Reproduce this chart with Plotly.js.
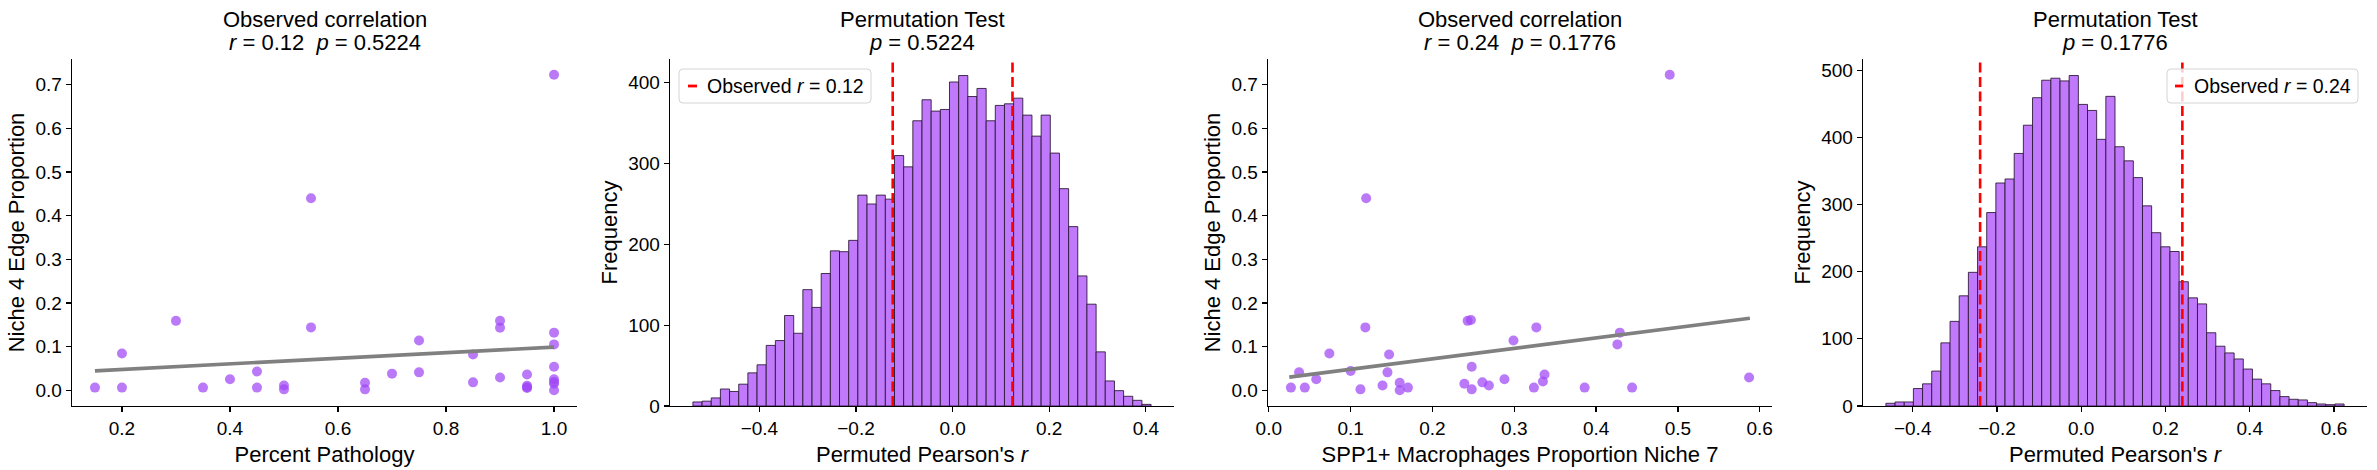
<!DOCTYPE html>
<html>
<head>
<meta charset="utf-8">
<script src="https://cdn.plot.ly/plotly-3.0.1.min.js"></script>
<style>html,body{margin:0;padding:0;background:#fff;}#chart{width:2377px;height:470px;}</style>
</head>
<body>
<div id="chart"></div>
<script>
// ---------- DATA ----------
// Panel 1: Percent Pathology vs Niche 4 Edge Proportion
const pathologyX = [0.15,0.2,0.2,0.3,0.35,0.4,0.45,0.45,0.5,0.5,0.55,0.55,0.65,0.65,0.7,0.75,0.75,0.85,0.85,0.9,0.9,0.9,0.95,0.95,0.95,0.95,1.0,1.0,1.0,1.0,1.0,1.0,1.0,1.0];
const edgeY1     = [0.006,0.084,0.006,0.159,0.006,0.025,0.043,0.006,0.011,0.002,0.440,0.144,0.017,0.002,0.038,0.114,0.041,0.082,0.018,0.159,0.143,0.029,0.036,0.010,0.007,0.005,0.723,0.132,0.105,0.054,0.025,0.019,0.015,0.000];
const fit1X = [0.15, 1.0];
const fit1Y = [0.0444, 0.0988];

// Panel 3: SPP1+ Macrophages Proportion Niche 7 vs Niche 4 Edge Proportion
const macroX = [0.027,0.037,0.044,0.058,0.074,0.100,0.112,0.118,0.119,0.139,0.145,0.147,0.160,0.160,0.170,0.239,0.243,0.247,0.248,0.248,0.261,0.269,0.288,0.299,0.324,0.327,0.335,0.337,0.386,0.426,0.429,0.444,0.490,0.587];
const edgeY3 = [0.006,0.041,0.006,0.025,0.084,0.044,0.002,0.144,0.440,0.011,0.041,0.082,0.017,0.000,0.006,0.015,0.159,0.161,0.054,0.002,0.018,0.011,0.025,0.114,0.006,0.144,0.020,0.036,0.006,0.105,0.132,0.006,0.723,0.029];
const fit3X = [0.025, 0.588];
const fit3Y = [0.030, 0.165];

// Panel 2: permutation histogram (50 bins)
const perm1BinStart = -0.5376;
const perm1BinWidth = 0.01897;
const perm1Counts = [5,6,10,21,18,27,41,51,75,81,
  112,90,144,122,164,192,191,205,261,250,
  261,256,310,296,353,379,365,367,401,409,
  383,393,353,372,374,381,360,334,360,313,
  269,222,161,126,67,31,19,12,7,2];
const obsR1 = 0.124, obsR1Label = "0.12", p1Label = "0.5224";

// Panel 4: permutation histogram (50 bins)
const perm2BinStart = -0.4636;
const perm2BinWidth = 0.02175;
const perm2Counts = [4,6,6,26,33,52,94,126,164,199,
  237,288,332,338,376,418,459,485,488,484,
  492,449,440,397,461,386,365,340,298,258,
  237,230,185,161,152,109,89,79,70,55,
  40,33,23,14,10,9,5,3,2,3];
const obsR2 = 0.24, obsR2Label = "0.24", p2Label = "0.1776";

// ---------- STYLE / LAYOUT ----------
const W = 2377, H = 470;
const FONT = "Liberation Sans, Arial, Helvetica, sans-serif";
const SCATTER_COLOR = "rgba(160,70,245,0.72)";
const BAR_COLOR = "rgb(192,121,250)";
const BAR_EDGE = "rgba(40,20,50,0.85)";
const NBSP = "\u00a0";
const TITLE_SIZE = 22, LABEL_SIZE = 22, TICK_SIZE = 19, LEG_SIZE = 19.5;

function centers(start, width, n) {
  const c = [];
  for (let i = 0; i < n; i++) c.push(start + width * (i + 0.5));
  return c;
}
function padRange(lo, hi, frac) { const s = hi - lo; return [lo - frac * s, hi + frac * s]; }

const px = v => v / W;
const pyTop = v => 1 - v / H;
const yDom = [pyTop(406), pyTop(59)];

function axisBase(extra) {
  return Object.assign({
    showline: true, linecolor: "#000", linewidth: 1.3,
    ticks: "outside", ticklen: 5, tickwidth: 1.3, tickcolor: "#000",
    showgrid: false, zeroline: false, mirror: false,
    tickfont: {family: FONT, size: TICK_SIZE, color: "#000"},
    automargin: false, fixedrange: true
  }, extra);
}
function xTitle(t) { return {text: t, font: {family: FONT, size: LABEL_SIZE, color: "#000"}, standoff: 8}; }
function yTitle(t) { return {text: t, font: {family: FONT, size: LABEL_SIZE, color: "#000"}, standoff: 4}; }

const hist1X = centers(perm1BinStart, perm1BinWidth, perm1Counts.length);
const hist2X = centers(perm2BinStart, perm2BinWidth, perm2Counts.length);

const scatterY = padRange(Math.min(...edgeY1), Math.max(...edgeY1), 0.05);

const traces = [
  {type: "scatter", mode: "markers", x: pathologyX, y: edgeY1, xaxis: "x", yaxis: "y",
   marker: {size: 10, color: SCATTER_COLOR, line: {width: 0}}, showlegend: false, hoverinfo: "skip"},
  {type: "scatter", mode: "lines", x: fit1X, y: fit1Y, xaxis: "x", yaxis: "y",
   line: {color: "#808080", width: 3.6}, showlegend: false, hoverinfo: "skip"},
  {type: "bar", x: hist1X, y: perm1Counts, width: perm1BinWidth, xaxis: "x2", yaxis: "y2",
   marker: {color: BAR_COLOR, line: {color: BAR_EDGE, width: 1}}, showlegend: false, hoverinfo: "skip"},
  {type: "scatter", mode: "markers", x: macroX, y: edgeY3, xaxis: "x3", yaxis: "y3",
   marker: {size: 10, color: SCATTER_COLOR, line: {width: 0}}, showlegend: false, hoverinfo: "skip"},
  {type: "scatter", mode: "lines", x: fit3X, y: fit3Y, xaxis: "x3", yaxis: "y3",
   line: {color: "#808080", width: 3.6}, showlegend: false, hoverinfo: "skip"},
  {type: "bar", x: hist2X, y: perm2Counts, width: perm2BinWidth, xaxis: "x4", yaxis: "y4",
   marker: {color: BAR_COLOR, line: {color: BAR_EDGE, width: 1}}, showlegend: false, hoverinfo: "skip"}
];

const h1Range = padRange(perm1BinStart, perm1BinStart + perm1BinWidth * perm1Counts.length, 0.05);
const h2Range = padRange(perm2BinStart, perm2BinStart + perm2BinWidth * perm2Counts.length, 0.05);
const s1Range = padRange(Math.min(...pathologyX), Math.max(...pathologyX), 0.05);
const s3Range = padRange(Math.min(...macroX), Math.max(...macroX), 0.05);

function vline(xref, yref, x) {
  return {type: "line", xref: xref, yref: yref + " domain", x0: x, x1: x, y0: 0, y1: 1,
          line: {color: "#ff0000", width: 2.6, dash: "10px,4.5px"}, layer: "above"};
}
// rounded legend frame (paper coords, radius in px)
function legendBox(x0p, x1p, y0p, y1p, r) {
  const x0 = px(x0p), x1 = px(x1p), yb = pyTop(y1p), yt = pyTop(y0p);
  const rx = r / W, ry = r / H;
  const path = "M" + (x0 + rx) + "," + yt +
    " L" + (x1 - rx) + "," + yt + " Q" + x1 + "," + yt + " " + x1 + "," + (yt - ry) +
    " L" + x1 + "," + (yb + ry) + " Q" + x1 + "," + yb + " " + (x1 - rx) + "," + yb +
    " L" + (x0 + rx) + "," + yb + " Q" + x0 + "," + yb + " " + x0 + "," + (yb + ry) +
    " L" + x0 + "," + (yt - ry) + " Q" + x0 + "," + yt + " " + (x0 + rx) + "," + yt + " Z";
  return {type: "path", xref: "paper", yref: "paper", path: path,
          line: {color: "rgb(212,212,212)", width: 1}, fillcolor: "rgba(255,255,255,0.8)", layer: "above"};
}
function legendSample(x0, x1) {
  return {type: "line", xref: "paper", yref: "paper", x0: px(x0), x1: px(x1), y0: pyTop(86), y1: pyTop(86),
          line: {color: "#ff0000", width: 2.8}, layer: "above"};
}
function ann(text, xpx, ypx, size, anchor) {
  return {text: text, xref: "paper", yref: "paper", x: px(xpx), y: pyTop(ypx),
          xanchor: anchor || "center", yanchor: "middle", showarrow: false,
          font: {family: FONT, size: size, color: "#000"}};
}

const c1 = (72 + 577) / 2, c2 = (670 + 1174) / 2, c3 = (1268 + 1772) / 2, c4 = (1863 + 2367) / 2;

const layout = {
  width: W, height: H,
  margin: {l: 0, r: 0, t: 0, b: 0, pad: 0},
  paper_bgcolor: "#fff", plot_bgcolor: "#fff",
  font: {family: FONT, color: "#000"},
  showlegend: false,
  bargap: 0,
  xaxis: axisBase({domain: [px(72), px(577)], range: s1Range, dtick: 0.2, tick0: 0, tickformat: ".1f", anchor: "y",
                   title: xTitle("Percent Pathology")}),
  yaxis: axisBase({domain: yDom, range: scatterY, dtick: 0.1, tick0: 0, tickformat: ".1f", anchor: "x",
                   title: yTitle("Niche 4 Edge Proportion")}),
  xaxis2: axisBase({domain: [px(670), px(1174)], range: h1Range, dtick: 0.2, tick0: 0, tickformat: ".1f", anchor: "y2",
                    title: xTitle("Permuted Pearson's <i>r</i>")}),
  yaxis2: axisBase({domain: yDom, range: [0, Math.max(...perm1Counts) * 1.05], dtick: 100, anchor: "x2",
                    title: yTitle("Frequency")}),
  xaxis3: axisBase({domain: [px(1268), px(1772)], range: s3Range, dtick: 0.1, tick0: 0, tickformat: ".1f", anchor: "y3",
                    title: xTitle("SPP1+ Macrophages Proportion Niche 7")}),
  yaxis3: axisBase({domain: yDom, range: scatterY, dtick: 0.1, tick0: 0, tickformat: ".1f", anchor: "x3",
                    title: yTitle("Niche 4 Edge Proportion")}),
  xaxis4: axisBase({domain: [px(1863), px(2367)], range: h2Range, dtick: 0.2, tick0: 0, tickformat: ".1f", anchor: "y4",
                    title: xTitle("Permuted Pearson's <i>r</i>")}),
  yaxis4: axisBase({domain: yDom, range: [0, Math.max(...perm2Counts) * 1.05], dtick: 100, anchor: "x4",
                    title: yTitle("Frequency")}),
  shapes: [
    vline("x2", "y2", -obsR1), vline("x2", "y2", obsR1),
    vline("x4", "y4", -obsR2), vline("x4", "y4", obsR2),
    legendBox(679, 871, 69, 103, 4), legendSample(688, 697),
    legendBox(2167, 2358, 69, 103, 4), legendSample(2175, 2183)
  ],
  annotations: [
    ann("Observed correlation", c1, 20, TITLE_SIZE),
    ann("<i>r</i> = " + obsR1Label + NBSP + NBSP + "<i>p</i> = " + p1Label, c1, 43, TITLE_SIZE),
    ann("Permutation Test", c2, 20, TITLE_SIZE),
    ann("<i>p</i> = " + p1Label, c2, 43, TITLE_SIZE),
    ann("Observed correlation", c3, 20, TITLE_SIZE),
    ann("<i>r</i> = " + obsR2Label + NBSP + NBSP + "<i>p</i> = " + p2Label, c3, 43, TITLE_SIZE),
    ann("Permutation Test", c4, 20, TITLE_SIZE),
    ann("<i>p</i> = " + p2Label, c4, 43, TITLE_SIZE),
    ann("Observed <i>r</i> = " + obsR1Label, 705, 86, LEG_SIZE, "left"),
    ann("Observed <i>r</i> = " + obsR2Label, 2192, 86, LEG_SIZE, "left")
  ]
};

Plotly.newPlot("chart", traces, layout, {displayModeBar: false, staticPlot: true});
</script>
</body>
</html>
